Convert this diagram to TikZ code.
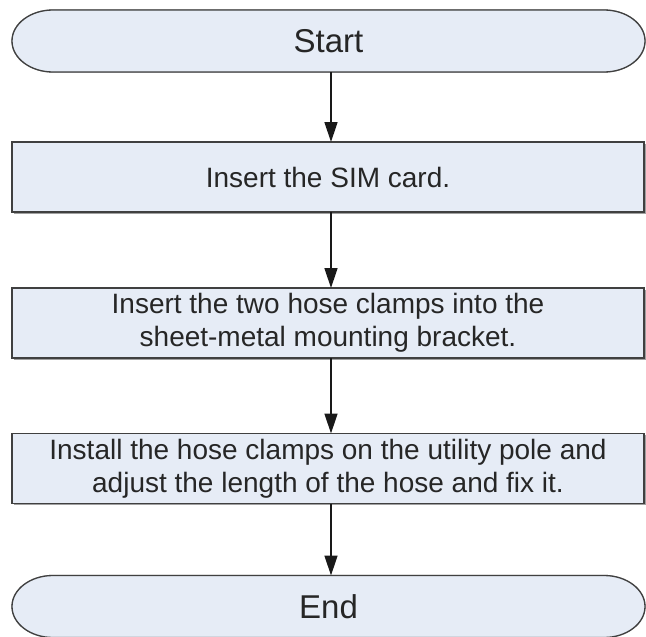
\documentclass[tikz,border=0pt]{standalone}
\usepackage{fontspec}
\setmainfont{Liberation Sans}
\usetikzlibrary{arrows.meta,backgrounds,shadows}
\definecolor{boxfill}{RGB}{230,236,246}
\definecolor{boxline}{RGB}{64,64,64}
\definecolor{shadowgray}{RGB}{160,160,160}
\begin{document}
\begin{tikzpicture}[x=1pt,y=-1pt,
  term/.style={rectangle,draw=none,fill=none,minimum width=633pt,
    minimum height=62pt,inner sep=0pt,outer sep=0pt,text=black!85,
    font=\fontsize{33}{36}\selectfont},
  termline/.style={draw=boxline,fill=boxfill,line width=1.3pt},
  termshadow/.style={draw=shadowgray,line width=1.3pt,shift={(1.5pt,-1.5pt)}},
  stepbox/.style={rectangle,draw=boxline,fill=boxfill,line width=1.3pt,
    minimum width=632pt,minimum height=70pt,inner sep=0pt,outer sep=0pt,
    align=center,text=black!85,font=\fontsize{28}{33}\selectfont,
    drop shadow={shadow xshift=1.5pt,shadow yshift=-1.5pt,fill=shadowgray,opacity=1}},
  flow/.style={line width=1.4pt,draw=black!90,-{Triangle[length=20pt,width=13pt]}}]
\useasboundingbox (0,0) rectangle (646,637);
\clip (0,0) rectangle (646,637);
\coordinate (axis) at (331,0);
\node[term] (start) at (328.5,41) {Start};
\node[stepbox] (s1) at (328,177) {Insert the SIM card.};
\node[stepbox] (s2) at (328,323) {Insert the two hose clamps into the\\sheet-metal mounting bracket.};
\node[stepbox] (s3) at (328,468.5) {Install the hose clamps on the utility pole and\\adjust the length of the hose and fix it.};
\node[term] (end) at (328.5,606.5) {End};
\begin{scope}[on background layer]
  \foreach \t in {start,end}{
    \path[termshadow] ([xshift=41pt]\t.north west) -- ([xshift=-41pt]\t.north east)
      arc[start angle=90,end angle=-90,x radius=41pt,y radius=31pt]
      -- ([xshift=41pt]\t.south west)
      arc[start angle=270,end angle=90,x radius=41pt,y radius=31pt] -- cycle;
    \path[termline] ([xshift=41pt]\t.north west) -- ([xshift=-41pt]\t.north east)
      arc[start angle=90,end angle=-90,x radius=41pt,y radius=31pt]
      -- ([xshift=41pt]\t.south west)
      arc[start angle=270,end angle=90,x radius=41pt,y radius=31pt] -- cycle;
  }
\end{scope}
\draw[flow] (start.south -| axis) -- (s1.north -| axis);
\draw[flow] (s1.south -| axis) -- (s2.north -| axis);
\draw[flow] (s2.south -| axis) -- (s3.north -| axis);
\draw[flow] (s3.south -| axis) -- (end.north -| axis);
\end{tikzpicture}
\end{document}
